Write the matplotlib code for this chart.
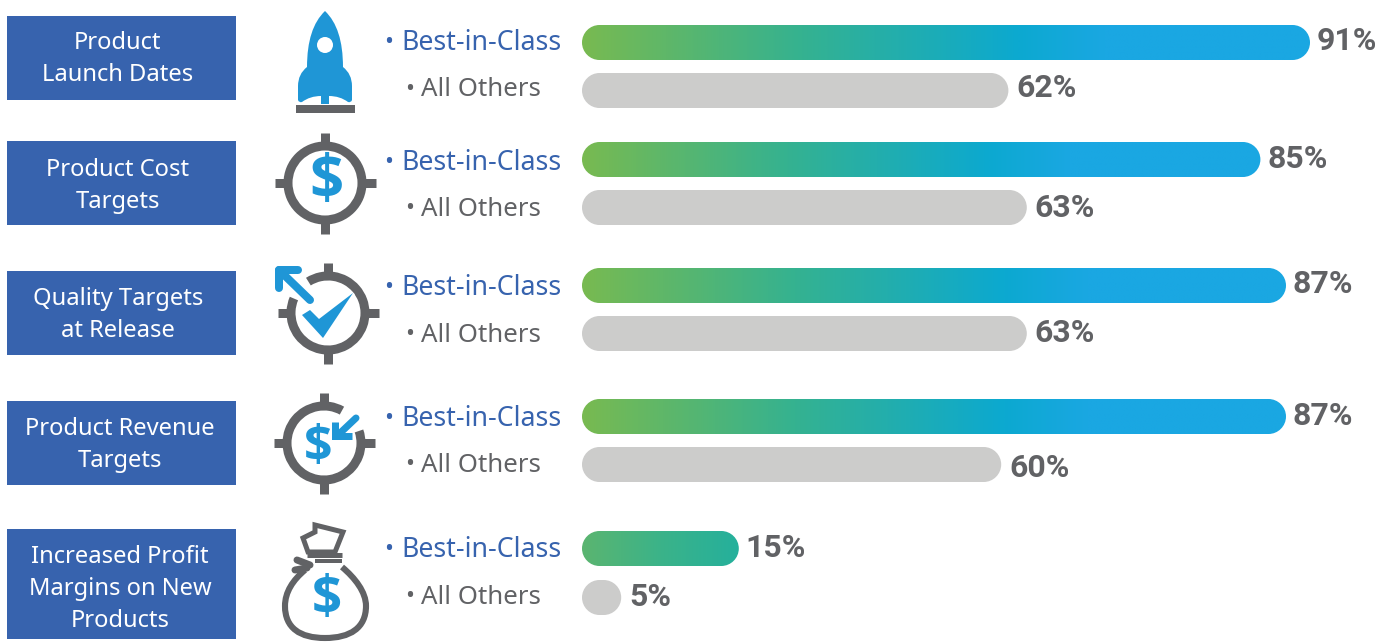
import numpy as np
import matplotlib
matplotlib.use("Agg")
import matplotlib.pyplot as plt
from matplotlib.colors import LinearSegmentedColormap
from matplotlib.patches import Circle, PathPatch, Polygon, Rectangle, Wedge
from matplotlib.path import Path

# data
categories = [
    "Product\nLaunch Dates",
    "Product Cost\nTargets",
    "Quality Targets\nat Release",
    "Product Revenue\nTargets",
    "Increased Profit\nMargins on New\nProducts",
]
best_values = [91, 85, 87, 87, 15]
other_values = [62, 63, 63, 60, 5]
# lengths the bars are actually drawn at (the original is not to scale)
best_drawn = [91.0, 84.8, 88.0, 88.0, 19.6]
other_drawn = [53.3, 55.6, 55.6, 52.4, 4.9]

# layout, in pixels of the picture
W, H = 1392, 643
BAR_LEFT = 582
UNIT = 8
BAR_H = 35
box_tops = [16, 141, 271, 401, 529]
box_bottoms = [100, 225, 355, 485, 639]
text_x = [118, 118, 118, 120, 120]
text_y = [59, 186, 315, 445, 589]
best_tops = [25, 142, 268, 399, 531]
other_tops = [73, 190, 316, 447, 580]
best_label_y = [41, 159, 284, 416, 548]
other_label_y = [88, 208, 333, 468, 597]
best_text_y = [43, 163, 288, 419, 550]
other_text_y = [90, 209, 335, 465, 597]

BLUE = "#3763AE"
GREY = "#616265"
ICON = "#1F96D6"
BAR_GREY = "#CCCCCB"
FONT = "Noto Sans"

fig = plt.figure(figsize=(W / 100, H / 100), dpi=100)
ax = fig.add_axes([0, 0, 1, 1])
ax.set_xlim(0, W)
ax.set_ylim(H, 0)
ax.axis("off")

# bars get their own axes where x is the drawn percent
ax_bars = fig.add_axes([BAR_LEFT / W, 0, (UNIT * 100) / W, 1])
ax_bars.set_xlim(0, 100)
ax_bars.set_ylim(H, 0)
ax_bars.axis("off")
ax_bars.patch.set_alpha(0)

long_cmap = LinearSegmentedColormap.from_list(
    "long", [(0, "#78BA51"), (0.3, "#35B290"), (0.6, "#0CA9D0"), (0.72, "#1AA7E2"), (1, "#1AA7E2")])
short_cmap = LinearSegmentedColormap.from_list("short", ["#5BB570", "#3BB389", "#25B09C"])


def pill(length, top, color="none"):
    # rounded both ends with true circular corners in pixels
    ry = BAR_H / 2
    rx = ry / UNIT
    k = 0.55
    b = top + BAR_H
    m = top + ry
    verts = [(rx, top), (length - rx, top),
             (length - rx + k * rx, top), (length, m - k * ry), (length, m),
             (length, m + k * ry), (length - rx + k * rx, b), (length - rx, b),
             (rx, b),
             (rx - k * rx, b), (0, m + k * ry), (0, m),
             (0, m - k * ry), (rx - k * rx, top), (rx, top),
             (rx, top)]
    codes = [Path.MOVETO, Path.LINETO] + [Path.CURVE4] * 6 + [Path.LINETO] + [Path.CURVE4] * 6 + [Path.CLOSEPOLY]
    p = PathPatch(Path(verts, codes), fc=color, ec="none")
    ax_bars.add_patch(p)
    return p


def gradient_bar(length, top, cmap):
    p = pill(length, top)
    grad = np.linspace(0, 1, 400).reshape(1, -1)
    im = ax_bars.imshow(grad, extent=[0, length, top + BAR_H, top], cmap=cmap,
                        aspect="auto", interpolation="bilinear")
    im.set_clip_path(p)


def line(points, width, color=GREY, cap="butt", join="miter"):
    xs, ys = zip(*points)
    ax.plot(xs, ys, color=color, lw=width * 0.72, solid_capstyle=cap, solid_joinstyle=join)


def crosshair(cx, cy, gap=None):
    # ring, optionally with an opening; angles are on the flipped y axis
    if gap is None:
        ax.add_patch(Wedge((cx, cy), 41.5, 0, 360, width=9, fc=GREY, ec="none"))
    else:
        ax.add_patch(Wedge((cx, cy), 41.5, gap[1], gap[0] + 360, width=9, fc=GREY, ec="none"))
    for dx, dy in [(1, 0), (-1, 0), (0, 1), (0, -1)]:
        line([(cx + dx * 38, cy + dy * 38), (cx + dx * 50.5, cy + dy * 50.5)], 9)


def dollar(x, y, size):
    ax.text(x, y, "$", color=ICON, fontsize=size, fontweight="bold", family="Open Sans",
            ha="center", va="center")


def rocket():
    verts = [(325, 11), (307, 28), (307, 67), (298, 74), (298, 86), (298, 100),
             (299, 103), (302, 102), (310, 96), (321, 96), (321, 104), (329, 104), (329, 96),
             (340, 96), (348, 102), (351, 103), (352, 100), (352, 86), (352, 74), (343, 67),
             (343, 28), (325, 11), (325, 11)]
    codes = [Path.MOVETO, Path.CURVE3, Path.CURVE3, Path.CURVE3, Path.CURVE3,
             Path.LINETO, Path.CURVE3, Path.CURVE3, Path.CURVE3, Path.CURVE3, Path.LINETO,
             Path.LINETO, Path.LINETO, Path.CURVE3, Path.CURVE3, Path.CURVE3, Path.CURVE3,
             Path.LINETO, Path.CURVE3, Path.CURVE3, Path.CURVE3, Path.CURVE3,
             Path.CLOSEPOLY]
    ax.add_patch(PathPatch(Path(verts, codes), fc=ICON, ec="none"))
    ax.add_patch(Circle((325, 45), 8, fc="white", ec="none"))
    ax.add_patch(Rectangle((296, 105), 59, 8, fc=GREY, ec="none"))


def check_icon():
    crosshair(328, 313, gap=(203, 238))
    # white knock-out behind the arrow, then arrow and tick
    line([(314, 303), (285, 274)], 14, color="white")
    line([(310, 300), (279, 270)], 8, color=ICON, cap="round")
    line([(298, 270), (279, 270), (279, 288)], 8, color=ICON, cap="round", join="round")
    tick = [(302, 315), (310, 310), (319, 319), (353, 293), (323, 338)]
    ax.add_patch(Polygon(tick, fc="white", ec="white", lw=3))
    ax.add_patch(Polygon(tick, fc=ICON, ec="none"))


def revenue_icon():
    crosshair(324, 443, gap=(-61, -19))
    line([(356, 418), (338, 435)], 7, color=ICON, cap="round")
    line([(335, 422), (335, 436), (352, 436)], 7, color=ICON, join="miter")
    dollar(318, 448, 36)


def bag_icon():
    body = [(305, 570), (293, 580), (285, 592), (285, 606),
            (285, 628), (300, 638), (325, 638),
            (350, 638), (366, 628), (366, 606),
            (366, 592), (355, 578), (342, 567)]
    codes = [Path.MOVETO] + [Path.CURVE4] * 12
    ax.add_patch(PathPatch(Path(body, codes), fc="none", ec=GREY, lw=4.4))
    line([(307, 555), (342, 555)], 5)
    line([(315, 561), (342, 561)], 4)
    line([(297, 560), (310, 565)], 7, cap="round")
    line([(295, 570), (307, 568)], 7, cap="round")
    top = [(303, 538), (315, 532), (315, 525), (343, 532), (335, 552), (308, 552)]
    ax.add_patch(Polygon(top, fc="none", ec=GREY, lw=3.6, joinstyle="miter"))
    dollar(327, 600, 38)


for i, cat in enumerate(categories):
    top, bottom = box_tops[i], box_bottoms[i]
    ax.add_patch(Rectangle((7, top), 229, bottom - top, fc=BLUE, ec="none"))
    ax.text(text_x[i], text_y[i], cat, color="white", fontsize=17.1, family=FONT,
            ha="center", va="center", linespacing=1.42)

    ax.text(384, best_text_y[i], "•", color=BLUE, fontsize=17, family=FONT, ha="left", va="center")
    ax.text(401, best_text_y[i], "Best-in-Class", color=BLUE, fontsize=19.2, family=FONT,
            ha="left", va="center")
    ax.text(405, other_text_y[i], "•", color=GREY, fontsize=17, family=FONT, ha="left", va="center")
    ax.text(421, other_text_y[i], "All Others", color=GREY, fontsize=18.6, family=FONT,
            ha="left", va="center")

    cmap = short_cmap if best_values[i] < 50 else long_cmap
    gradient_bar(best_drawn[i], best_tops[i], cmap)
    pill(other_drawn[i], other_tops[i], BAR_GREY)

    ax.text(BAR_LEFT + best_drawn[i] * UNIT + 7, best_label_y[i], f"{best_values[i]}%",
            color=GREY, fontsize=23, fontweight="bold", family="Roboto", ha="left", va="center")
    ax.text(BAR_LEFT + other_drawn[i] * UNIT + 8, other_label_y[i], f"{other_values[i]}%",
            color=GREY, fontsize=23, fontweight="bold", family="Roboto", ha="left", va="center")

ax_bars.set_xlim(0, 100)
ax_bars.set_ylim(H, 0)

rocket()
crosshair(325, 183)
dollar(326, 183, 43)
check_icon()
revenue_icon()
bag_icon()

fig.savefig("out.png", dpi=100)
